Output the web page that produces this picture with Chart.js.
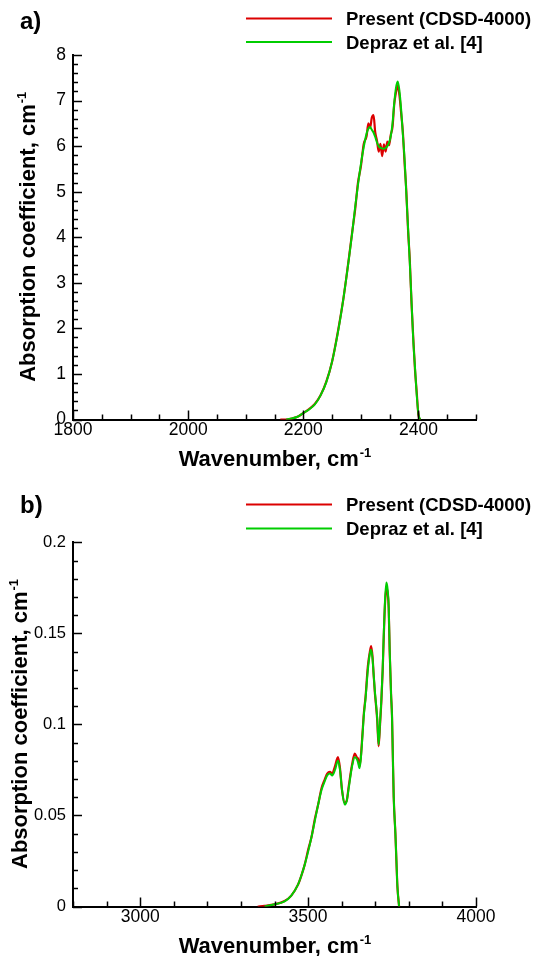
<!DOCTYPE html>
<html>
<head>
<meta charset="utf-8">
<script src="https://cdn.jsdelivr.net/npm/chart.js@4.4.0/dist/chart.umd.min.js"></script>
<style>
html, body { margin: 0; padding: 0; background: #fff; }
#wrap { position: relative; width: 538px; height: 956px; }
canvas { position: absolute; left: 0; }
</style>
</head>
<body>
<div id="wrap">
<canvas id="chartA" width="538" height="478" style="top:0px"></canvas>
<canvas id="chartB" width="538" height="478" style="top:478px"></canvas>
</div>
<script>
// panel a) 4.3 um band
const aWave = [2160, 2170, 2180, 2190, 2200, 2210, 2220, 2230, 2240, 2250, 2260, 2270, 2280, 2285,
  2290, 2295, 2300, 2305, 2310, 2313, 2316, 2319, 2322, 2325, 2328, 2331, 2334, 2337, 2340, 2343,
  2346, 2349, 2352, 2355, 2358, 2361, 2364, 2367, 2370, 2373, 2376, 2379, 2382, 2385, 2388, 2391,
  2394, 2397, 2400, 2403];
const aPresent = [0, 0, 0.02, 0.06, 0.14, 0.23, 0.34, 0.53, 0.83, 1.27, 1.92, 2.68, 3.62, 4.12,
  4.6, 5.2, 5.55, 6.05, 6.22, 6.5, 6.4, 6.62, 6.68, 6.3, 6.12, 5.88, 6.05, 5.78, 6.04, 5.88,
  6.1, 6.02, 6.25, 6.42, 6.92, 7.18, 7.33, 7.12, 6.72, 6.3, 5.62, 5.0, 4.15, 3.5, 2.55, 1.8,
  1.1, 0.6, 0.1, 0];
const aDepraz = [null, 0, 0.02, 0.06, 0.14, 0.22, 0.33, 0.53, 0.82, 1.27, 1.9, 2.68, 3.6, 4.1,
  4.65, 5.15, 5.6, 5.98, 6.28, 6.38, 6.42, 6.36, 6.3, 6.2, 6.08, 6.0, 5.96, 5.95, 5.94, 5.96,
  6.0, 6.08, 6.22, 6.5, 6.95, 7.28, 7.42, 7.22, 6.8, 6.25, 5.7, 4.95, 4.2, 3.45, 2.6, 1.75,
  1.15, 0.55, 0.12, 0];
const aXTicks = [1800, 2000, 2200, 2400];
const aYTicks = [0, 1, 2, 3, 4, 5, 6, 7, 8];

// panel b) 2.7 um band
const bWave = [3350, 3370, 3400, 3430, 3450, 3470, 3480, 3490, 3500, 3510,
  3520, 3530, 3540, 3550, 3557, 3565, 3572, 3580, 3589, 3595,
  3601, 3609, 3615, 3621, 3631, 3639, 3645, 3649, 3653, 3657,
  3662, 3666, 3671, 3678, 3684, 3688, 3692, 3695, 3699, 3702,
  3706, 3710, 3714, 3718, 3722, 3725, 3729, 3733, 3737, 3740,
  3743, 3747, 3750, 3752, 3755, 3760, 3763, 3766, 3771];
const bPresent = [0, 0.0004, 0.0012, 0.003, 0.006, 0.012, 0.017, 0.023, 0.031, 0.038,
  0.048, 0.056, 0.065, 0.07, 0.073, 0.074, 0.073, 0.077, 0.082, 0.076,
  0.064, 0.057, 0.058, 0.066, 0.078, 0.084, 0.082, 0.081, 0.077, 0.082,
  0.095, 0.106, 0.115, 0.132, 0.14, 0.143, 0.137, 0.128, 0.117, 0.111,
  0.102, 0.088, 0.099, 0.112, 0.129, 0.146, 0.166, 0.175, 0.172, 0.164,
  0.14, 0.117, 0.104, 0.086, 0.06, 0.04, 0.025, 0.011, 0];
const bDepraz = [null, 0, 0.0012, 0.0028, 0.006, 0.012, 0.017, 0.023, 0.03, 0.038,
  0.047, 0.056, 0.064, 0.069, 0.072, 0.073, 0.072, 0.075, 0.08, 0.075,
  0.064, 0.056, 0.058, 0.065, 0.077, 0.082, 0.081, 0.079, 0.076, 0.081,
  0.094, 0.105, 0.114, 0.13, 0.139, 0.141, 0.136, 0.128, 0.118, 0.112,
  0.103, 0.089, 0.1, 0.113, 0.13, 0.148, 0.168, 0.178, 0.174, 0.165,
  0.141, 0.117, 0.104, 0.086, 0.06, 0.04, 0.0255, 0.011, 0];
const bXTicks = [3000, 3500, 4000];
const bYTicks = [0, 0.05, 0.1, 0.15, 0.2];

const seriesNames = ['Present (CDSD-4000)', 'Depraz et al. [4]'];

const FONT = '"Liberation Sans", Arial, Helvetica, sans-serif';
const RED = 'rgb(220,0,0)';
const GREEN = 'rgb(0,205,0)';

function pts(xs, ys) {
  return xs.map((x, i) => ({ x: x, y: ys[i] }));
}

// inward major + minor tick marks, only left and bottom axes
function drawTicks(ctx, scale, area, step, majors, horizontal) {
  ctx.save();
  ctx.strokeStyle = '#000';
  ctx.lineWidth = 1.5;
  const n = Math.round((scale.max - scale.min) / step);
  for (let i = 0; i <= n; i++) {
    const v = scale.min + i * step;
    const isMajor = majors.some(m => Math.abs(m - v) < step / 10);
    const len = isMajor ? 9 : 5;
    const p = Math.round(scale.getPixelForValue(v)) + 0.5;
    ctx.beginPath();
    if (horizontal) {
      ctx.moveTo(p, area.bottom);
      ctx.lineTo(p, area.bottom - len);
    } else {
      ctx.moveTo(area.left, p);
      ctx.lineTo(area.left + len, p);
    }
    ctx.stroke();
  }
  ctx.restore();
}

function makePanel(id, cfg) {
  const decor = {
    id: 'decor',
    afterDraw(chart) {
      const ctx = chart.ctx;
      const area = chart.chartArea;
      drawTicks(ctx, chart.scales.x, area, cfg.xMinor, cfg.xTicks, true);
      drawTicks(ctx, chart.scales.y, area, cfg.yMinor, cfg.yTicks, false);

      ctx.save();
      ctx.fillStyle = '#000';
      // panel letter
      ctx.font = 'bold 24px ' + FONT;
      ctx.textBaseline = 'alphabetic';
      ctx.fillText(cfg.letter, 20, cfg.letterY);

      // legend
      chart.data.datasets.forEach((ds, i) => {
        const ly = cfg.legendY[i];
        ctx.strokeStyle = ds.borderColor;
        ctx.lineWidth = 2;
        ctx.beginPath();
        ctx.moveTo(246, ly);
        ctx.lineTo(332, ly);
        ctx.stroke();
        ctx.font = 'bold 18.5px ' + FONT;
        ctx.fillText(ds.label, 346, ly + 6.5);
      });

      // x axis title with superscript
      const xMain = 'Wavenumber, cm';
      ctx.font = 'bold 22px ' + FONT;
      const wMain = ctx.measureText(xMain).width;
      ctx.font = 'bold 13px ' + FONT;
      const wSup = ctx.measureText('-1').width;
      const cx = (area.left + area.right) / 2;
      let x0 = cx - (wMain + wSup) / 2;
      const by = area.bottom + 46.5;
      ctx.font = 'bold 22px ' + FONT;
      ctx.fillText(xMain, x0, by);
      ctx.font = 'bold 13px ' + FONT;
      ctx.fillText('-1', x0 + wMain + 1, by - 9);

      // y axis title, rotated
      const yMain = 'Absorption coefficient, cm';
      ctx.translate(cfg.titleX, (area.top + area.bottom) / 2);
      ctx.rotate(-Math.PI / 2);
      ctx.font = 'bold 22px ' + FONT;
      const wyMain = ctx.measureText(yMain).width;
      const y0 = -(wyMain + wSup) / 2;
      ctx.fillText(yMain, y0, 0);
      ctx.font = 'bold 13px ' + FONT;
      ctx.fillText('-1', y0 + wyMain + 1, -9);
      ctx.restore();
    }
  };

  return new Chart(document.getElementById(id), {
    type: 'line',
    data: {
      datasets: [{
        label: seriesNames[0],
        data: pts(cfg.wave, cfg.present),
        borderColor: RED,
        borderWidth: 2.2,
        pointRadius: 0,
        cubicInterpolationMode: 'monotone',
        fill: false,
        order: 1
      }, {
        label: seriesNames[1],
        data: pts(cfg.wave, cfg.depraz),
        borderColor: GREEN,
        borderWidth: 2,
        pointRadius: 0,
        cubicInterpolationMode: 'monotone',
        fill: false,
        order: 0
      }]
    },
    options: {
      responsive: false,
      animation: false,
      events: [],
      layout: { padding: { top: cfg.top, right: 62, left: 0, bottom: 0 } },
      plugins: { legend: { display: false }, tooltip: { enabled: false } },
      scales: {
        x: {
          type: 'linear',
          min: cfg.xMin,
          max: cfg.xMax,
          afterBuildTicks: s => { s.ticks = cfg.xTicks.map(v => ({ value: v })); },
          afterFit: s => { s.height = 478 - cfg.bottom; },
          ticks: {
            autoSkip: false,
            maxRotation: 0,
            padding: 0,
            color: '#000',
            font: { family: FONT, size: 17.5 },
            callback: v => String(v)
          },
          grid: { display: false, drawTicks: false },
          border: { display: true, color: '#000', width: 2 }
        },
        y: {
          type: 'linear',
          min: cfg.yMin,
          max: cfg.yMax,
          afterBuildTicks: s => { s.ticks = cfg.yTicks.map(v => ({ value: v })); },
          afterFit: s => { s.width = 73; },
          ticks: {
            autoSkip: false,
            padding: 7,
            color: '#000',
            font: { family: FONT, size: cfg.yFont },
            callback: v => String(v)
          },
          grid: { display: false, drawTicks: false },
          border: { display: true, color: '#000', width: 2 }
        }
      }
    },
    plugins: [decor]
  });
}

makePanel('chartA', {
  wave: aWave, present: aPresent, depraz: aDepraz,
  xMin: 1800, xMax: 2500, xTicks: aXTicks, xMinor: 50,
  yMin: 0, yMax: 8, yTicks: aYTicks, yMinor: 0.2, yFont: 17.5,
  top: 55, bottom: 419.5, titleX: 35,
  letter: 'a)', letterY: 29, legendY: [18.6, 42]
});

makePanel('chartB', {
  wave: bWave, present: bPresent, depraz: bDepraz,
  xMin: 2800, xMax: 4000, xTicks: bXTicks, xMinor: 100,
  yMin: 0, yMax: 0.2, yTicks: bYTicks, yMinor: 0.01, yFont: 16.5,
  top: 64.4, bottom: 428.5, titleX: 27,
  letter: 'b)', letterY: 35, legendY: [26.5, 50.6]
});
</script>
</body>
</html>
